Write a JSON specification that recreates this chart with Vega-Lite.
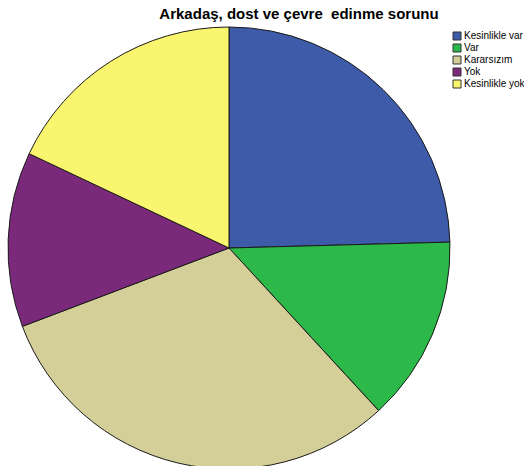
{
  "$schema": "https://vega.github.io/schema/vega-lite/v6.json",
  "autosize": "none",
  "width": 458,
  "height": 448,
  "padding": {"top": 24, "left": 0, "right": 66, "bottom": 0},
  "background": "white",
  "title": {
    "text": "Arkadaş, dost ve çevre\u00a0 edinme sorunu",
    "font": "Liberation Sans",
    "fontSize": 15,
    "fontWeight": "bold",
    "color": "black",
    "anchor": "middle",
    "frame": "group",
    "dx": 70,
    "offset": 2
  },
  "data": {
    "values": [
      {"kategori": "Kesinlikle var", "yuzde": 24.6, "sira": 1},
      {"kategori": "Var", "yuzde": 13.6, "sira": 2},
      {"kategori": "Kararsızım", "yuzde": 31.1, "sira": 3},
      {"kategori": "Yok", "yuzde": 12.8, "sira": 4},
      {"kategori": "Kesinlikle yok", "yuzde": 18.0, "sira": 5}
    ]
  },
  "mark": {"type": "arc", "outerRadius": 221, "stroke": "#1a1a1a", "strokeWidth": 1},
  "encoding": {
    "theta": {"field": "yuzde", "type": "quantitative", "stack": true},
    "order": {"field": "sira", "type": "quantitative"},
    "color": {
      "field": "kategori",
      "type": "nominal",
      "sort": ["Kesinlikle var", "Var", "Kararsızım", "Yok", "Kesinlikle yok"],
      "scale": {
        "domain": ["Kesinlikle var", "Var", "Kararsızım", "Yok", "Kesinlikle yok"],
        "range": ["#3E5BAA", "#2DB84A", "#D4CE98", "#7B2A7B", "#FAF56E"]
      },
      "legend": {
        "title": null,
        "orient": "none",
        "legendX": 452,
        "legendY": 7,
        "symbolType": "square",
        "symbolSize": 64,
        "symbolStrokeColor": "#333333",
        "symbolStrokeWidth": 1,
        "labelFont": "Liberation Sans",
        "labelFontSize": 10,
        "labelColor": "black",
        "labelOffset": 2,
        "rowPadding": 0,
        "labelLimit": 200
      }
    }
  }
}
